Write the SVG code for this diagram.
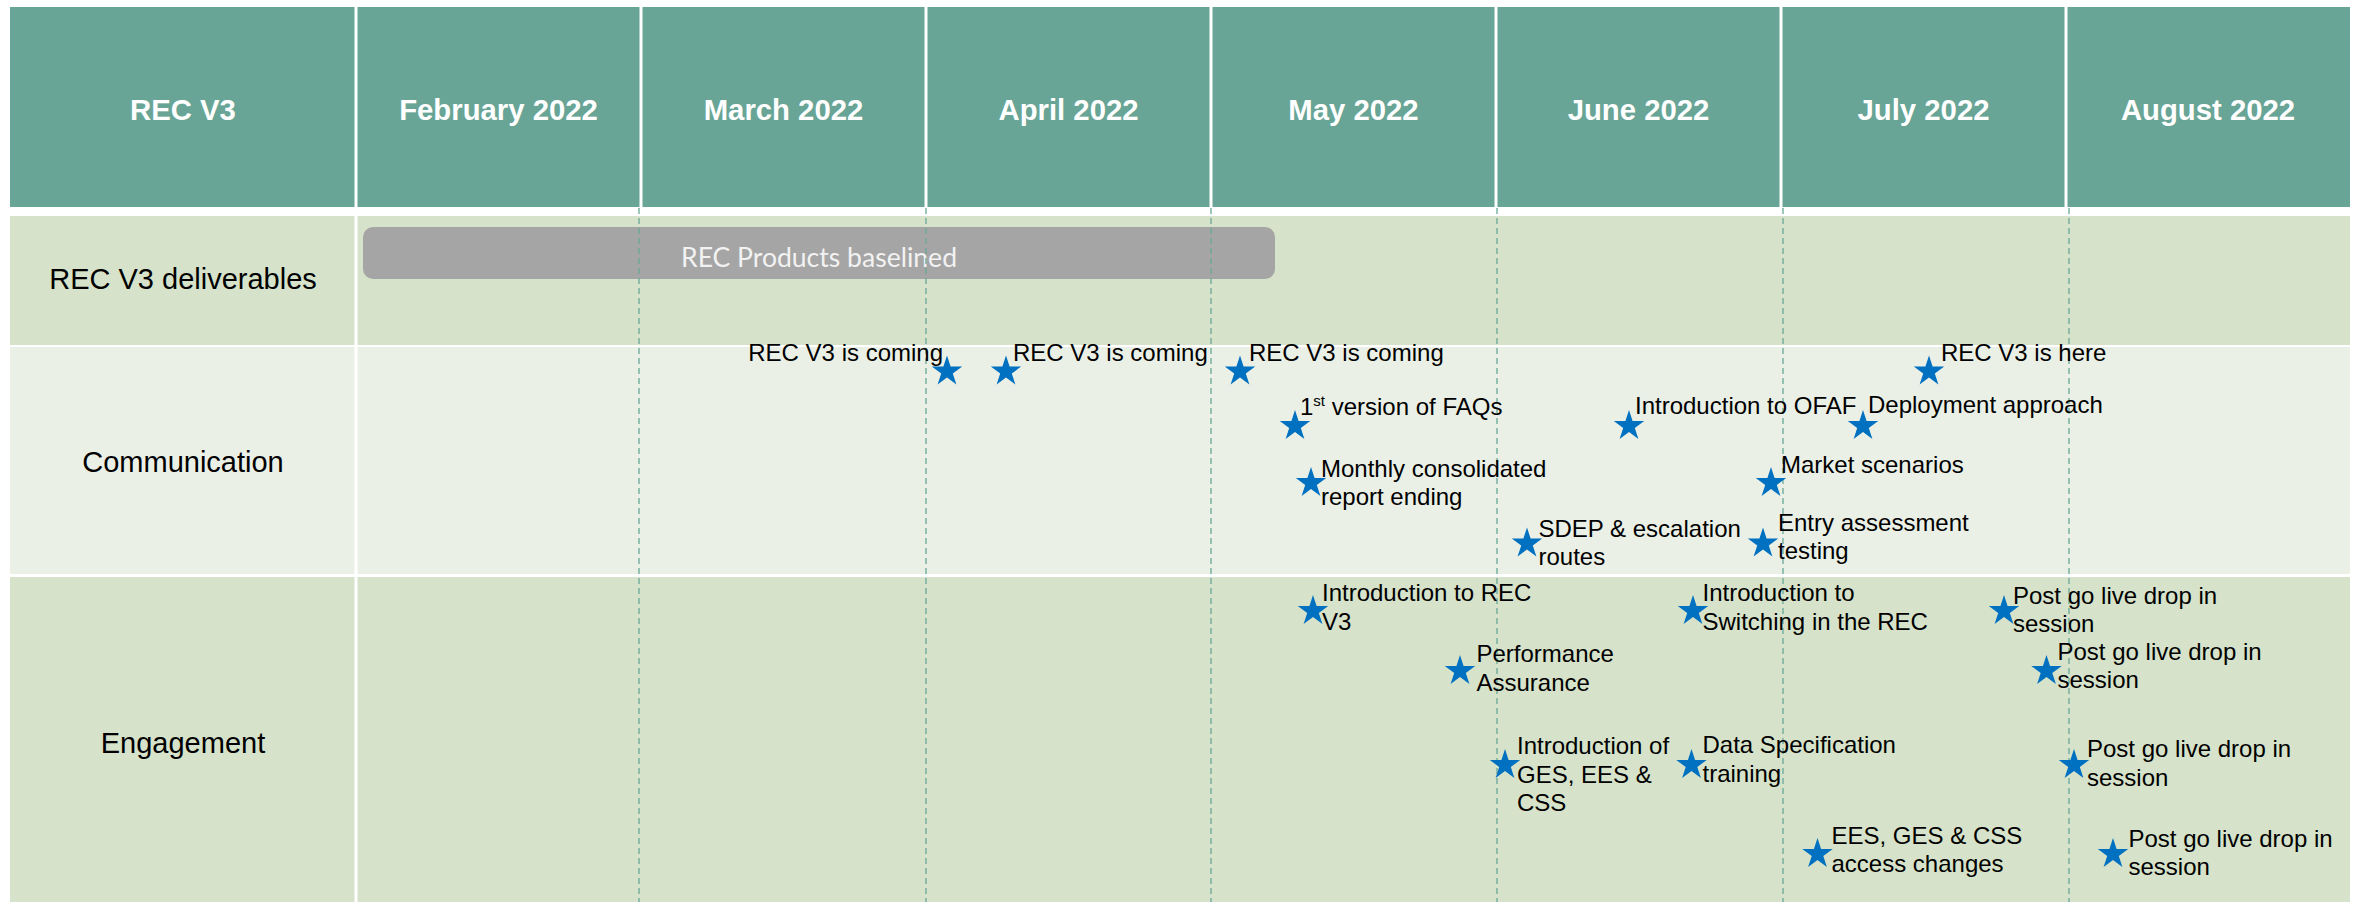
<svg xmlns="http://www.w3.org/2000/svg" xmlns:xlink="http://www.w3.org/1999/xlink" width="2362" height="902" viewBox="0 0 2362 902">
<style>
.hdr{fill:#68A596}
.hdrtxt{font-family:"Liberation Sans",Arial,sans-serif;font-weight:bold;font-size:29.3px;fill:#FFFFFF;text-anchor:middle}
.rowA{fill:#D6E3CA}
.rowB{fill:#EBF0E7}
.lbl{font-family:"Liberation Sans",Arial,sans-serif;font-size:29px;fill:#000000;text-anchor:middle}
.t{font-family:"Liberation Sans",Arial,sans-serif;font-size:24px;fill:#000000}
.sep{stroke:#FFFFFF;stroke-width:3}
.grid{stroke:#68A898;stroke-width:1.3;stroke-dasharray:6 4;fill:none}
.star{fill:#0070C0}
.bar{fill:#A5A5A5}
.bartxt{font-family:Lato,"Open Sans",sans-serif;font-size:26px;fill:#F2F2F2;text-anchor:middle}
</style>
<defs>
<path id="star" d="M0,-16 L3.59,-4.93 L15.22,-4.94 L5.80,1.88 L9.40,12.94 L0,6.1 L-9.40,12.94 L-5.80,1.88 L-15.22,-4.94 L-3.59,-4.93 Z"/>
</defs>
<rect width="2362" height="902" fill="#FFFFFF"/>

<g id="header">
<rect class="hdr" x="10" y="7" width="2340" height="200"/>
<line class="sep" x1="356" y1="7" x2="356" y2="207"/>
<line class="sep" x1="641" y1="7" x2="641" y2="207"/>
<line class="sep" x1="926" y1="7" x2="926" y2="207"/>
<line class="sep" x1="1211" y1="7" x2="1211" y2="207"/>
<line class="sep" x1="1496" y1="7" x2="1496" y2="207"/>
<line class="sep" x1="1781" y1="7" x2="1781" y2="207"/>
<line class="sep" x1="2066" y1="7" x2="2066" y2="207"/>
<text class="hdrtxt" x="183" y="120">REC V3</text>
<text class="hdrtxt" x="498.5" y="120">February 2022</text>
<text class="hdrtxt" x="783.5" y="120">March 2022</text>
<text class="hdrtxt" x="1068.5" y="120">April 2022</text>
<text class="hdrtxt" x="1353.5" y="120">May 2022</text>
<text class="hdrtxt" x="1638.5" y="120">June 2022</text>
<text class="hdrtxt" x="1923.5" y="120">July 2022</text>
<text class="hdrtxt" x="2208" y="120">August 2022</text>
</g>

<g id="rows">
<rect class="rowA" x="10" y="216" width="2340" height="129"/>
<rect class="rowB" x="10" y="347" width="2340" height="227"/>
<rect class="rowA" x="10" y="577" width="2340" height="325"/>
<line class="sep" x1="356" y1="216" x2="356" y2="902"/>
</g>

<g id="row-labels">
<text class="lbl" x="183" y="289">REC V3 deliverables</text>
<text class="lbl" x="183" y="472">Communication</text>
<text class="lbl" x="183" y="753">Engagement</text>
</g>

<g id="bar-rec-products">
<rect class="bar" x="363" y="227" width="912" height="52" rx="10" ry="10"/>
<text class="bartxt" x="819" y="267" textLength="276" lengthAdjust="spacingAndGlyphs">REC Products baselined</text>
</g>

<g id="gridlines">
<line class="grid" x1="639" y1="208" x2="639" y2="902"/>
<line class="grid" x1="926" y1="208" x2="926" y2="902"/>
<line class="grid" x1="1211" y1="208" x2="1211" y2="902"/>
<line class="grid" x1="1497" y1="208" x2="1497" y2="902"/>
<line class="grid" x1="1783" y1="208" x2="1783" y2="902"/>
<line class="grid" x1="2069" y1="208" x2="2069" y2="902"/>
</g>

<g id="comm-1"><use href="#star" class="star" x="947" y="371.5"/><text class="t" x="943" y="361" text-anchor="end">REC V3 is coming</text></g>
<g id="comm-2"><use href="#star" class="star" x="1006" y="371.5"/><text class="t" x="1013" y="361">REC V3 is coming</text></g>
<g id="comm-3"><use href="#star" class="star" x="1240" y="371.5"/><text class="t" x="1249" y="361">REC V3 is coming</text></g>
<g id="comm-4"><use href="#star" class="star" x="1929" y="371.5"/><text class="t" x="1941" y="361">REC V3 is here</text></g>
<g id="comm-5"><use href="#star" class="star" x="1295" y="426"/><text class="t" x="1300" y="415">1<tspan font-size="15" dy="-9">st</tspan><tspan dy="9"> version of FAQs</tspan></text></g>
<g id="comm-6"><use href="#star" class="star" x="1629" y="426"/><text class="t" x="1635" y="414">Introduction to OFAF</text></g>
<g id="comm-7"><use href="#star" class="star" x="1863" y="426"/><text class="t" x="1868" y="413">Deployment approach</text></g>
<g id="comm-8"><use href="#star" class="star" x="1311" y="483"/><text class="t" x="1321" y="477">Monthly consolidated<tspan x="1321" dy="27.5">report ending</tspan></text></g>
<g id="comm-9"><use href="#star" class="star" x="1771" y="483"/><text class="t" x="1781" y="473">Market scenarios</text></g>
<g id="comm-10"><use href="#star" class="star" x="1527" y="543.5"/><text class="t" x="1538.5" y="537">SDEP &amp; escalation<tspan x="1538.5" dy="28">routes</tspan></text></g>
<g id="comm-11"><use href="#star" class="star" x="1763" y="543.5"/><text class="t" x="1778" y="531">Entry assessment<tspan x="1778" dy="28">testing</tspan></text></g>

<g id="eng-1"><use href="#star" class="star" x="1313" y="611"/><text class="t" x="1322" y="601">Introduction to REC<tspan x="1322" dy="28.5">V3</tspan></text></g>
<g id="eng-2"><use href="#star" class="star" x="1460" y="671"/><text class="t" x="1476.5" y="662">Performance<tspan x="1476.5" dy="28.5">Assurance</tspan></text></g>
<g id="eng-3"><use href="#star" class="star" x="1693" y="611"/><text class="t" x="1702.5" y="601">Introduction to<tspan x="1702.5" dy="28.5">Switching in the REC</tspan></text></g>
<g id="eng-4"><use href="#star" class="star" x="2004" y="611"/><text class="t" x="2013" y="603.5">Post go live drop in<tspan x="2013" dy="28.5">session</tspan></text></g>
<g id="eng-5"><use href="#star" class="star" x="2046.5" y="671"/><text class="t" x="2057.5" y="659.5">Post go live drop in<tspan x="2057.5" dy="28.5">session</tspan></text></g>
<g id="eng-6"><use href="#star" class="star" x="1505" y="765"/><text class="t" x="1517" y="754">Introduction of<tspan x="1517" dy="28.5">GES, EES &amp;</tspan><tspan x="1517" dy="28.5">CSS</tspan></text></g>
<g id="eng-7"><use href="#star" class="star" x="1691.5" y="765"/><text class="t" x="1702.5" y="753">Data Specification<tspan x="1702.5" dy="28.5">training</tspan></text></g>
<g id="eng-8"><use href="#star" class="star" x="2074" y="765"/><text class="t" x="2087" y="757">Post go live drop in<tspan x="2087" dy="28.5">session</tspan></text></g>
<g id="eng-9"><use href="#star" class="star" x="1817.5" y="854"/><text class="t" x="1831.5" y="843.5">EES, GES &amp; CSS<tspan x="1831.5" dy="28.5">access changes</tspan></text></g>
<g id="eng-10"><use href="#star" class="star" x="2113" y="854"/><text class="t" x="2128.5" y="847">Post go live drop in<tspan x="2128.5" dy="28">session</tspan></text></g>
</svg>
